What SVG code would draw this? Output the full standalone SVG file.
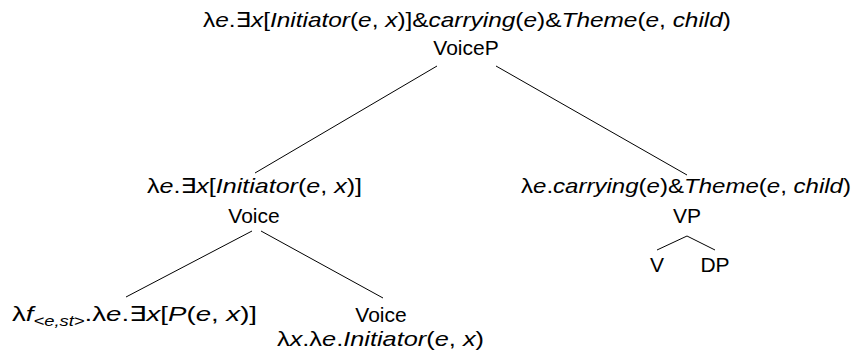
<svg xmlns="http://www.w3.org/2000/svg" width="854" height="355" viewBox="0 0 854 355">
<style>
text{font-family:"Liberation Sans","DejaVu Sans",sans-serif;font-size:21px;fill:#000}
.c{text-anchor:middle}
.i{font-style:italic}
.s{font-size:14px}
.edge{stroke:#000;stroke-width:1;fill:none}
</style>
<rect width="854" height="355" fill="#fff"/>
<g id="connectors">
<line class="edge" x1="437" y1="66" x2="255" y2="173"/>
<line class="edge" x1="496" y1="66" x2="687" y2="175"/>
<line class="edge" x1="252" y1="231" x2="126" y2="297"/>
<line class="edge" x1="261" y1="231" x2="383" y2="298"/>
<line class="edge" x1="687" y1="236" x2="657" y2="250"/>
<line class="edge" x1="687" y1="236" x2="715" y2="250"/>
</g>
<g id="VoiceP">
<text x="203" y="27" textLength="528" lengthAdjust="spacingAndGlyphs">λ<tspan class="i">e</tspan>.∃<tspan class="i">x</tspan>[<tspan class="i">Initiator</tspan>(<tspan class="i">e</tspan>, <tspan class="i">x</tspan>)]&amp;<tspan class="i">carrying</tspan>(<tspan class="i">e</tspan>)&amp;<tspan class="i">Theme</tspan>(<tspan class="i">e</tspan>, <tspan class="i">child</tspan>)</text>
<text class="c" x="466" y="55">VoiceP</text>
</g>
<g id="Voice1">
<text x="147" y="193" textLength="215" lengthAdjust="spacingAndGlyphs">λ<tspan class="i">e</tspan>.∃<tspan class="i">x</tspan>[<tspan class="i">Initiator</tspan>(<tspan class="i">e</tspan>, <tspan class="i">x</tspan>)]</text>
<text class="c" x="254" y="223">Voice</text>
</g>
<g id="VP">
<text x="521" y="193" textLength="330" lengthAdjust="spacingAndGlyphs">λ<tspan class="i">e</tspan>.<tspan class="i">carrying</tspan>(<tspan class="i">e</tspan>)&amp;<tspan class="i">Theme</tspan>(<tspan class="i">e</tspan>, <tspan class="i">child</tspan>)</text>
<text class="c" x="687" y="223">VP</text>
</g>
<g id="V"><text class="c" x="657" y="272">V</text></g>
<g id="DP"><text class="c" x="715" y="272">DP</text></g>
<g id="F">
<text x="12" y="321" textLength="245" lengthAdjust="spacingAndGlyphs">λ<tspan class="i">f</tspan><tspan class="s i" dy="5">&lt;e,st&gt;</tspan><tspan dy="-5">.λ</tspan><tspan class="i">e</tspan>.∃<tspan class="i">x</tspan>[<tspan class="i">P</tspan>(<tspan class="i">e</tspan>, <tspan class="i">x</tspan>)]</text>
</g>
<g id="Voice2">
<text class="c" x="381" y="322">Voice</text>
<text x="277" y="346" textLength="207" lengthAdjust="spacingAndGlyphs">λ<tspan class="i">x</tspan>.λ<tspan class="i">e</tspan>.<tspan class="i">Initiator</tspan>(<tspan class="i">e</tspan>, <tspan class="i">x</tspan>)</text>
</g>
</svg>
